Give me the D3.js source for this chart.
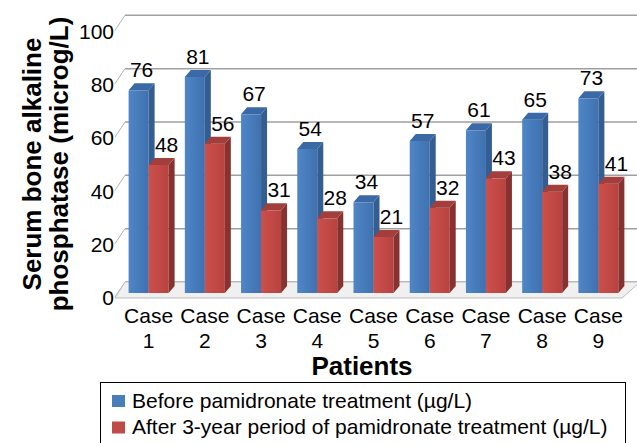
<!DOCTYPE html>
<html>
<head>
<meta charset="utf-8">
<script src="https://cdn.jsdelivr.net/npm/d3@7"></script>
<style>
  body { margin: 0; background: #fff; }
  text { font-family: "Liberation Sans", Arial, sans-serif; }
</style>
</head>
<body>
<div id="chart"></div>
<script>
const cases = ["1", "2", "3", "4", "5", "6", "7", "8", "9"];
const before = [76, 81, 67, 54, 34, 57, 61, 65, 73];
const after = [48, 56, 31, 28, 21, 32, 43, 38, 41];
const seriesNames = ["Before pamidronate treatment (µg/L)", "After 3-year period of pamidronate treatment (µg/L)"];
const yTicks = [0, 20, 40, 60, 80, 100];

const width = 637, height = 443;
const depthX = 6, depthY = 7;      // bar depth

const svg = d3.select("#chart").append("svg")
  .attr("width", width).attr("height", height);

const defs = svg.append("defs");
function grad(id, c1, c2) {
  const g = defs.append("linearGradient").attr("id", id)
    .attr("x1", "0%").attr("x2", "100%").attr("y1", "0%").attr("y2", "0%");
  g.append("stop").attr("offset", "0%").attr("stop-color", c1);
  g.append("stop").attr("offset", "100%").attr("stop-color", c2);
}
grad("gBlue", "#4f86c6", "#3f71b0");
grad("gRed", "#cc504c", "#b8423f");

const colors = [
  { front: "url(#gBlue)", side: "#345d92", top: "#3b69a6", key: "#4a7ebb", lab: 3 },
  { front: "url(#gRed)", side: "#873231", top: "#a23f3c", key: "#be4b48", lab: 8 }
];

const y = d3.scaleLinear().domain([0, 100]).range([293, 26.3]);
const x = d3.scaleBand().domain(cases).range([120.5, 626.5]);
const x1 = d3.scaleBand().domain([0, 1]).range([0, 40]);

// back wall gridlines + left slants
const grid = svg.append("g");
yTicks.forEach(t => {
  grid.append("line")
    .attr("x1", 125).attr("x2", width)
    .attr("y1", y(t) - 11).attr("y2", y(t) - 11)
    .attr("stroke", "#9f9f9f").attr("stroke-width", 1.5);
  grid.append("line")
    .attr("x1", 115).attr("x2", 125)
    .attr("y1", y(t) + 4).attr("y2", y(t) - 11)
    .attr("stroke", "#b0b0b0").attr("stroke-width", 1);
});

// floor
svg.append("polygon")
  .attr("points", [[115, 298], [622, 298], [640, 282], [125, 282]].map(p => p.join(",")).join(" "))
  .attr("fill", "#f0f0f0").attr("stroke", "#bdbdbd").attr("stroke-width", 1);

// y tick labels
svg.append("g").selectAll("text").data(yTicks).join("text")
  .attr("x", 114).attr("y", d => y(d) + 5)
  .attr("dy", "0.35em")
  .attr("text-anchor", "end")
  .attr("font-size", 21)
  .text(d => d);

// bars
const bars = svg.append("g");
const labels = svg.append("g");
cases.forEach((c, i) => {
  [before[i], after[i]].forEach((v, s) => {
    const x0 = x(c) + x.bandwidth() / 2 - 20 + x1(s);
    const w = x1.bandwidth();
    const yt = y(v), yb = y(0);
    const col = colors[s];
    const g = bars.append("g");
    g.append("rect").attr("x", x0).attr("y", yt).attr("width", w).attr("height", yb - yt)
      .attr("fill", col.front);
    g.append("polygon")
      .attr("points", [[x0 + w, yt], [x0 + w + depthX, yt - depthY], [x0 + w + depthX, yb - depthY], [x0 + w, yb]].map(p => p.join(",")).join(" "))
      .attr("fill", col.side);
    g.append("polygon")
      .attr("points", [[x0, yt], [x0 + depthX, yt - depthY], [x0 + w + depthX, yt - depthY], [x0 + w, yt]].map(p => p.join(",")).join(" "))
      .attr("fill", col.top);
    labels.append("text")
      .attr("x", x0 + w / 2 + col.lab)
      .attr("y", yt - 13)
      .attr("text-anchor", "middle")
      .attr("font-size", 21)
      .text(v);
  });
});

// case labels
const xl = svg.append("g");
cases.forEach(c => {
  const cx = x(c) + x.bandwidth() / 2;
  xl.append("text").attr("x", cx).attr("y", 323).attr("text-anchor", "middle")
    .attr("font-size", 21).text("Case");
  xl.append("text").attr("x", cx).attr("y", 348).attr("text-anchor", "middle")
    .attr("font-size", 21).text(c);
});

// axis titles
svg.append("text")
  .attr("x", 362).attr("y", 375)
  .attr("text-anchor", "middle")
  .attr("font-size", 26).attr("font-weight", "bold")
  .text("Patients");

const ytl = svg.append("text")
  .attr("transform", "translate(41,164) rotate(-90)")
  .attr("text-anchor", "middle")
  .attr("font-size", 26).attr("font-weight", "bold");
ytl.append("tspan").attr("x", 0).attr("y", 0).text("Serum bone alkaline");
ytl.append("tspan").attr("x", 0).attr("y", 27).text("phosphatase (microg/L)");

// legend
const lg = svg.append("g");
lg.append("rect").attr("x", 100.5).attr("y", 382.5).attr("width", 525).attr("height", 80)
  .attr("fill", "#fff").attr("stroke", "#000").attr("stroke-width", 1);
seriesNames.forEach((n, i) => {
  lg.append("rect").attr("x", 112).attr("y", 395 + i * 26.5).attr("width", 13).attr("height", 12)
    .attr("fill", colors[i].key);
  lg.append("text").attr("x", 132).attr("y", 408 + i * 25.5)
    .attr("font-size", 21).text(n);
});
</script>
</body>
</html>
